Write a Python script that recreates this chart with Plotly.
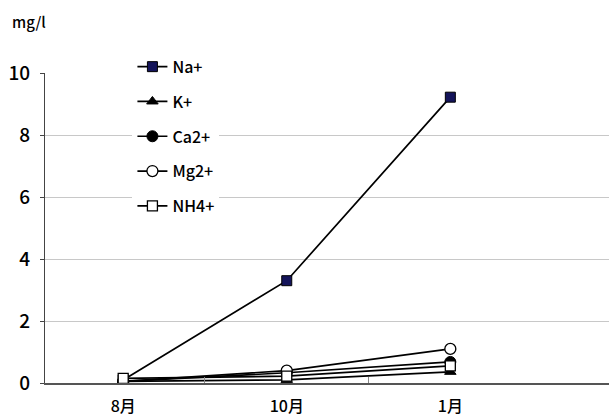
import plotly.graph_objects as go

months = ["8月", "10月", "1月"]
na = [0.10, 3.30, 9.22]
k = [0.05, 0.10, 0.36]
ca = [0.05, 0.33, 0.68]
mg = [0.05, 0.40, 1.10]
nh4 = [0.15, 0.22, 0.55]

series = [
    ("Na+", na, dict(symbol="square", color="#14145a", size=10, line=dict(color="black", width=1))),
    ("K+", k, dict(symbol="triangle-up", color="black", size=10, line=dict(color="black", width=1))),
    ("Ca2+", ca, dict(symbol="circle", color="black", size=11, line=dict(color="black", width=1))),
    ("Mg2+", mg, dict(symbol="circle", color="white", size=11, line=dict(color="black", width=1.3))),
    ("NH4+", nh4, dict(symbol="square", color="white", size=10, line=dict(color="black", width=1.3))),
]

xpos = list(range(len(months)))
fig = go.Figure()
for name, vals, marker in series:
    fig.add_trace(go.Scatter(
        x=xpos, y=vals, name=name, mode="lines+markers",
        line=dict(color="black", width=1.7), marker=marker,
        legendgroup=name,
    ))

font_family = "Noto Sans CJK JP"
fig.update_layout(
    width=609, height=419,
    margin=dict(l=45, r=0, t=73, b=36),
    paper_bgcolor="white", plot_bgcolor="white",
    font=dict(family=font_family, size=15, color="black", weight=500),
    showlegend=True,
    legend=dict(
        x=0.155, y=1.075, xanchor="left", yanchor="top",
        bgcolor="white", borderwidth=0,
        font=dict(family=font_family, size=16, color="black", weight=500),
        tracegroupgap=11, itemwidth=30,
    ),
    xaxis=dict(
        range=[-0.478, 2.97],
        tickmode="array", tickvals=xpos, ticktext=months,
        ticks="", showgrid=False, zeroline=False,
        showline=True, linecolor="#555555", linewidth=1.5,
        ticklabelstandoff=8,
        tickfont=dict(family=font_family, size=16, weight=500),
        minor=dict(tickmode="array", tickvals=[0.5, 1.5], ticks="inside",
                   ticklen=6, tickcolor="#888888", tickwidth=1, showgrid=False),
    ),
    yaxis=dict(
        range=[0, 10], tickvals=[0, 2, 4, 6, 8, 10],
        showgrid=True, gridcolor="#c8c8c8", gridwidth=1,
        zeroline=False, showline=True, linecolor="#444444", linewidth=1,
        ticks="outside", ticklen=4, tickcolor="#444444",
        ticklabelstandoff=6,
        tickfont=dict(family=font_family, size=19, weight=500),
    ),
    annotations=[dict(
        text="mg/l", xref="paper", yref="paper",
        x=(10 - 45) / 564, y=1 + (73 - 22) / 310,
        xanchor="left", yanchor="middle", showarrow=False,
        font=dict(family=font_family, size=15, color="black", weight=500),
    )],
)

fig.write_html("out.html")
